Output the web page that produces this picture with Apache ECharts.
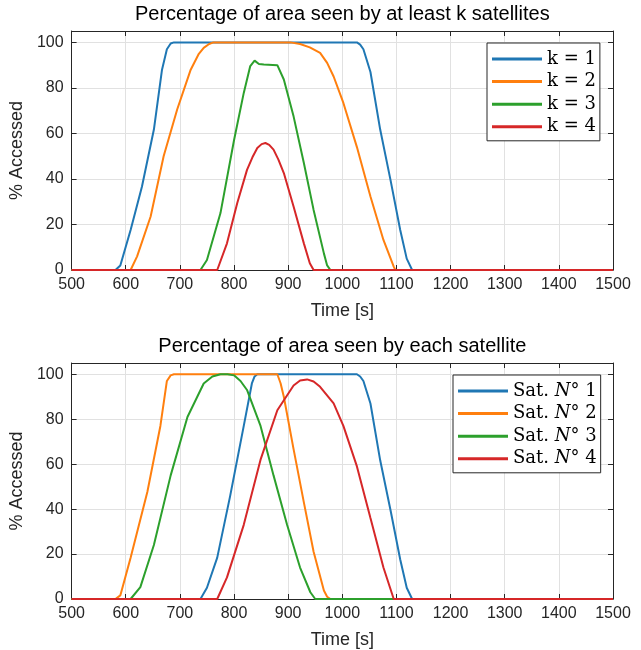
<!DOCTYPE html>
<html>
<head>
<meta charset="utf-8">
<script src="https://cdn.jsdelivr.net/npm/echarts@6/dist/echarts.min.js"></script>
<style>html,body{margin:0;padding:0;background:#fff}#c{width:641px;height:650px}</style>
</head>
<body>
<div id="c"></div>
<script>
// ---- Data ----
const xTicks = [500, 1500, 100];        // min, max, step of time axis
const yTicks = [0, 105, 20];            // min, max, step of percentage axis

const titleTop = 'Percentage of area seen by at least k satellites';
const titleBottom = 'Percentage of area seen by each satellite';
const xLabel = 'Time [s]';
const yLabel = '% Accessed';

const namesTop = ['k = 1', 'k = 2', 'k = 3', 'k = 4'];
const namesBottom = ['Sat. N° 1', 'Sat. N° 2', 'Sat. N° 3', 'Sat. N° 4'];

// Top: at least k satellites
const k1T = [500, 581, 590, 609, 630, 652, 667, 676, 683, 689, 1027, 1033, 1039, 1052, 1070, 1089, 1107, 1119, 1129, 1500];
const k1V = [0, 0, 2, 17.6, 36.7, 61.7, 88, 97, 99.5, 100, 100, 99, 97, 87, 61.7, 39.6, 17.6, 5, 0, 0];
const k2T = [500, 609, 621, 646, 670, 695, 720, 735, 744, 754, 762, 904, 922, 940, 959, 972, 984, 1002, 1027, 1052, 1076, 1095, 1098, 1500];
const k2V = [0, 0, 6, 23.5, 50, 70.5, 88, 95, 97.6, 99.3, 100, 100, 99.3, 97.8, 95.4, 91, 85, 73.4, 54, 32.3, 13.2, 1.5, 0, 0];
const k3T = [500, 738, 750, 775, 800, 818, 830, 838, 846, 855, 880, 892, 910, 929, 947, 966, 972, 978, 1500];
const k3V = [0, 0, 4.4, 25, 57, 77.8, 89.6, 92, 90.5, 90.3, 90, 83.7, 67.5, 47, 26.4, 7.3, 2, 0, 0];
const k4T = [500, 769, 787, 806, 824, 834, 843, 851, 858, 865, 873, 882, 892, 910, 929, 940, 947, 1500];
const k4V = [0, 0, 11.7, 29.4, 44, 49.5, 53.6, 55.3, 55.8, 55, 52.9, 48.5, 42.6, 27.9, 11.7, 3, 0, 0];

// Bottom: each satellite
const s1T = [500, 738, 750, 769, 793, 818, 833, 838, 843, 1027, 1033, 1039, 1052, 1070, 1089, 1107, 1119, 1129, 1500];
const s1V = [0, 0, 5, 18.4, 46, 77, 95.9, 99, 100, 100, 99, 97, 87, 61.7, 39.6, 17.6, 5, 0, 0];
const s2T = [500, 581, 590, 609, 640, 664, 676, 683, 689, 880, 886, 892, 910, 929, 947, 966, 972, 978, 1500];
const s2V = [0, 0, 1.6, 18.4, 47.7, 77, 97, 99.5, 100, 100, 96, 90, 66.7, 43, 21, 3.8, 1, 0, 0];
const s3T = [500, 609, 627, 652, 683, 714, 744, 760, 775, 788, 800, 812, 824, 849, 873, 898, 922, 941, 950, 1500];
const s3V = [0, 0, 5.3, 24, 55, 81, 95.9, 99, 100, 100, 99.5, 97, 93, 77, 55, 33, 14, 3, 0, 0];
const s4T = [500, 769, 787, 818, 849, 880, 910, 922, 935, 947, 959, 984, 1002, 1027, 1052, 1076, 1095, 1500];
const s4V = [0, 0, 9.6, 33, 62, 84, 95, 97.2, 97.7, 96.8, 94.4, 87, 77, 59, 36, 14, 0, 0];

const colors = ['#1f77b4', '#ff7f0e', '#2ca02c', '#d62728'];

// ---- Build chart ----
const zip = (t, v) => t.map((x, i) => [x, v[i]]);
const topData = [zip(k1T, k1V), zip(k2T, k2V), zip(k3T, k3V), zip(k4T, k4V)];
const botData = [zip(s1T, s1V), zip(s2T, s2V), zip(s3T, s3V), zip(s4T, s4V)];

const axCol = '#262626';
const sans = 'Liberation Sans, Arial, Helvetica, sans-serif';
const serif = 'DejaVu Serif, serif';

function xAx(grid, pos, name) {
  const isBottom = pos === 'bottom';
  return {
    gridIndex: grid, type: 'value', position: pos,
    min: xTicks[0], max: xTicks[1], interval: xTicks[2],
    axisLine: { show: true, onZero: false, lineStyle: { color: axCol, width: 1 } },
    axisTick: { show: true, inside: true, length: 5, lineStyle: { color: axCol } },
    axisLabel: { show: isBottom, color: axCol, fontSize: 16, fontFamily: sans, margin: 7, formatter: v => String(v) },
    splitLine: { show: isBottom, lineStyle: { color: '#e1e1e1', width: 1 } },
    name: name, nameLocation: 'middle',
    nameGap: isBottom ? 32 : 7,
    nameTextStyle: isBottom
      ? { color: axCol, fontSize: 18, fontFamily: sans }
      : { color: '#000', fontSize: 20, fontFamily: sans, verticalAlign: 'bottom' }
  };
}
function yAx(grid, pos) {
  const isLeft = pos === 'left';
  return {
    gridIndex: grid, type: 'value', position: pos,
    min: yTicks[0], max: yTicks[1], interval: yTicks[2],
    axisLine: { show: true, onZero: false, lineStyle: { color: axCol, width: 1 } },
    axisTick: { show: true, inside: true, length: 5, lineStyle: { color: axCol } },
    axisLabel: { show: isLeft, color: axCol, fontSize: 16, fontFamily: sans, margin: 8, showMaxLabel: false, formatter: v => String(v) },
    splitLine: { show: isLeft, lineStyle: { color: '#e1e1e1', width: 1 } },
    name: isLeft ? yLabel : '', nameLocation: 'middle', nameGap: 44,
    nameTextStyle: { color: axCol, fontSize: 18, fontFamily: sans }
  };
}

const series = [];
topData.forEach((d, i) => series.push({
  name: namesTop[i], type: 'line', xAxisIndex: 0, yAxisIndex: 0, data: d,
  symbol: 'none', lineStyle: { width: 2, color: colors[i] }, itemStyle: { color: colors[i] }
}));
botData.forEach((d, i) => series.push({
  name: namesBottom[i], type: 'line', xAxisIndex: 2, yAxisIndex: 2, data: d,
  symbol: 'none', lineStyle: { width: 2, color: colors[i] }, itemStyle: { color: colors[i] }
}));

const legendBase = {
  orient: 'vertical', icon: 'rect', itemWidth: 50, itemHeight: 3, itemGap: 4.6,
  backgroundColor: '#fff', borderColor: axCol, borderWidth: 1, borderRadius: 0,
  padding: [7, 4, 5, 5], selectedMode: false
};

const option = {
  animation: false,
  backgroundColor: '#fff',
  grid: [
    { left: 71, top: 31, width: 542, height: 239, show: false },
    { left: 71, top: 363, width: 542, height: 239, show: false }
  ],
  xAxis: [xAx(0, 'bottom', xLabel), xAx(0, 'top', titleTop), xAx(1, 'bottom', xLabel), xAx(1, 'top', titleBottom)],
  yAxis: [yAx(0, 'left'), yAx(0, 'right'), yAx(1, 'left'), yAx(1, 'right')],
  legend: [
    Object.assign({}, legendBase, {
      left: 487, top: 43, data: namesTop,
      textStyle: { fontFamily: serif, fontSize: 18, lineHeight: 18, color: '#000' }
    }),
    Object.assign({}, legendBase, {
      left: 453, top: 375, data: namesBottom,
      formatter: n => n.replace('N°', '{i|N}°'),
      textStyle: {
        fontFamily: serif, fontSize: 18, lineHeight: 18, color: '#000',
        rich: { i: { fontFamily: serif, fontStyle: 'italic', fontSize: 18, lineHeight: 18, color: '#000' } }
      }
    })
  ],
  series: series
};

const chart = echarts.init(document.getElementById('c'), null, { renderer: 'canvas' });
chart.setOption(option);
</script>
</body>
</html>
